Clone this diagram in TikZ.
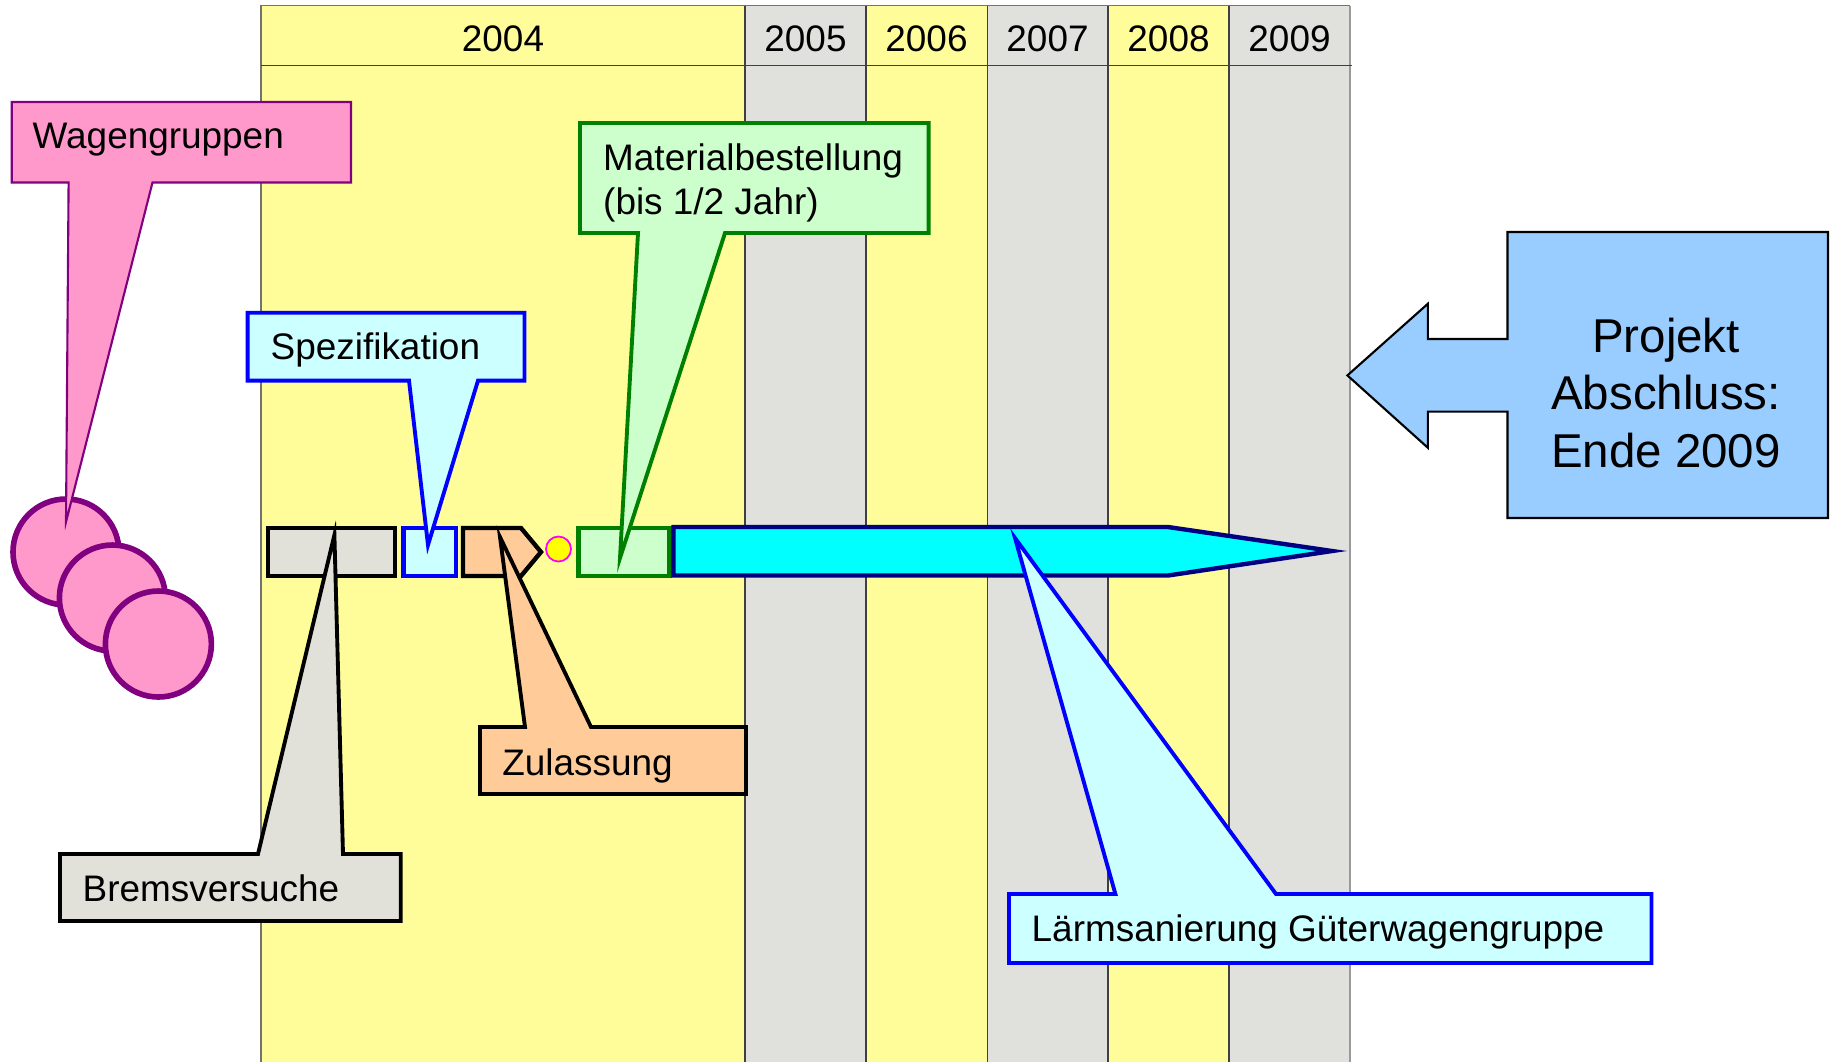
\documentclass[tikz,border=0pt]{standalone}
\usepackage{fontspec}
\setmainfont{Liberation Sans}
\definecolor{tyellow}{HTML}{FFFD99}
\definecolor{tgray}{HTML}{E0E1DD}
\definecolor{pinkf}{HTML}{FF99CC}
\definecolor{purp}{HTML}{800080}
\definecolor{lcyan}{HTML}{CCFFFF}
\definecolor{brightcyan}{HTML}{00FFFF}
\definecolor{lgreen}{HTML}{CCFFCC}
\definecolor{dgreen}{HTML}{008000}
\definecolor{peach}{HTML}{FFCC99}
\definecolor{navyb}{HTML}{000080}
\definecolor{lblue}{HTML}{99CCFF}
\definecolor{bargray}{HTML}{E1E1D9}
\definecolor{pureblue}{HTML}{0000FF}
\definecolor{puremag}{HTML}{FF00FF}
\definecolor{pureyellow}{HTML}{FFFF00}
\begin{document}
\begin{tikzpicture}[x=0.01cm,y=-0.01cm,
  lbl/.style={font=\fontsize{10.5pt}{12.6pt}\selectfont, inner sep=0pt, anchor=base west},
  yr/.style={font=\fontsize{10.5pt}{12.6pt}\selectfont, inner sep=0pt, anchor=base},
  big/.style={font=\fontsize{13.5pt}{16pt}\selectfont, inner sep=0pt, anchor=base},
  grid/.style={draw=black!75, line width=0.45pt},
  callthick/.style={line width=1.1pt, line join=miter},
  barline/.style={line width=1.25pt, line join=miter}]
\useasboundingbox (0,0) rectangle (1833,1062);
% ---- table columns
\fill[tyellow] (261,5.5) rectangle (745,1062);
\fill[tgray]   (745,5.5) rectangle (866,1062);
\fill[tyellow] (866,5.5) rectangle (987.5,1062);
\fill[tgray]   (987.5,5.5) rectangle (1108,1062);
\fill[tyellow] (1108,5.5) rectangle (1229,1062);
\fill[tgray]   (1229,5.5) rectangle (1350,1062);
\draw[draw=black!55, line width=0.45pt] (261,1062) -- (261,5.5) -- (1350,5.5);
\draw[draw=black!40, line width=0.45pt] (1350,5.5) -- (1350,1062);
\draw[grid] (261,65.4) -- (1352,65.4);
\draw[grid] (745,5.5) -- (745,1062);
\draw[grid] (866,5.5) -- (866,1062);
\draw[grid] (987.5,5.5) -- (987.5,1062);
\draw[grid] (1108,5.5) -- (1108,1062);
\draw[grid] (1229,5.5) -- (1229,1062);
\node[yr] (y2004) at (503,51.6) {2004};
\node[yr] (y2005) at (805.5,51.6) {2005};
\node[yr] (y2006) at (926.5,51.6) {2006};
\node[yr] (y2007) at (1047.5,51.6) {2007};
\node[yr] (y2008) at (1168.5,51.6) {2008};
\node[yr] (y2009) at (1289.5,51.6) {2009};
% ---- bars
\draw[barline, fill=bargray, draw=black] (268,528) rectangle (395,576);
\draw[barline, fill=lcyan, draw=pureblue] (403.6,528) rectangle (456,576);
\draw[barline, fill=peach, draw=black] (463,528) -- (521,528) -- (541,552) -- (521,576) -- (463,576) -- cycle;
\draw[fill=pureyellow, draw=puremag, line width=0.5pt] (558.5,549) circle[radius=12.5];
\draw[barline, fill=lgreen, draw=dgreen] (578.5,528) rectangle (669.4,576);
\draw[barline, fill=brightcyan, draw=navyb] (673.5,527) -- (1168,527) -- (1332,551) -- (1168,575.5) -- (673.5,575.5) -- cycle;
% ---- wagon circles
\draw[fill=pinkf, draw=purp, line width=1.6pt] (66,552) circle[radius=53];
\draw[fill=pinkf, draw=purp, line width=1.6pt] (112.4,598) circle[radius=53];
\draw[fill=pinkf, draw=purp, line width=1.6pt] (158.4,644) circle[radius=53];
% ---- callouts
\draw[fill=pinkf, draw=purp, line width=0.6pt, line join=miter]
  (11.7,102) -- (351,102) -- (351,182.5) -- (152.5,182.5) -- (66,522) -- (68.6,182.5) -- (11.7,182.5) -- cycle;
\node[lbl] (wagen) at (32,148.8) {Wagengruppen};

\draw[callthick, fill=lcyan, draw=pureblue]
  (247.6,312.7) -- (524.5,312.7) -- (524.5,380.6) -- (478,380.6) -- (428,545) -- (409,380.6) -- (247.6,380.6) -- cycle;
\node[lbl] (spez) at (270,359.5) {Spezifikation};

\draw[callthick, fill=lgreen, draw=dgreen]
  (580,123) -- (928.6,123) -- (928.6,233) -- (725,233) -- (620,558) -- (638,233) -- (580,233) -- cycle;
\node[lbl] (mat1) at (602.5,170.5) {Materialbestellung};
\node[lbl] (mat2) at (602.5,214) {(bis 1/2 Jahr)};

\draw[callthick, fill=bargray, draw=black]
  (60,854) -- (258,854) -- (334.4,535) -- (343,854) -- (400.7,854) -- (400.7,921) -- (60,921) -- cycle;
\node[lbl] (brems) at (82,901) {Bremsversuche};

\draw[callthick, fill=peach, draw=black]
  (480,727) -- (525,727) -- (500,537) -- (591,727) -- (746,727) -- (746,794) -- (480,794) -- cycle;
\node[lbl] (zul) at (501.6,775) {Zulassung};

\draw[callthick, fill=lcyan, draw=pureblue]
  (1009,894) -- (1115.4,894) -- (1015,538) -- (1276,894) -- (1651.5,894) -- (1651.5,963) -- (1009,963) -- cycle;
\node[lbl] (laerm) at (1031,941) {Lärmsanierung Güterwagengruppe};

\draw[fill=lblue, draw=black, line width=0.6pt, line join=miter]
  (1507.5,232) -- (1828,232) -- (1828,518) -- (1507.5,518) -- (1507.5,411.6) -- (1427.8,411.6) -- (1427.8,447.7)
  -- (1347.4,375.4) -- (1427.8,303.8) -- (1427.8,339) -- (1507.5,339) -- cycle;
\node[big] (proj1) at (1666,352.6) {Projekt};
\node[big] (proj2) at (1666,409.6) {Abschluss:};
\node[big] (proj3) at (1666,467) {Ende 2009};
\end{tikzpicture}
\end{document}
